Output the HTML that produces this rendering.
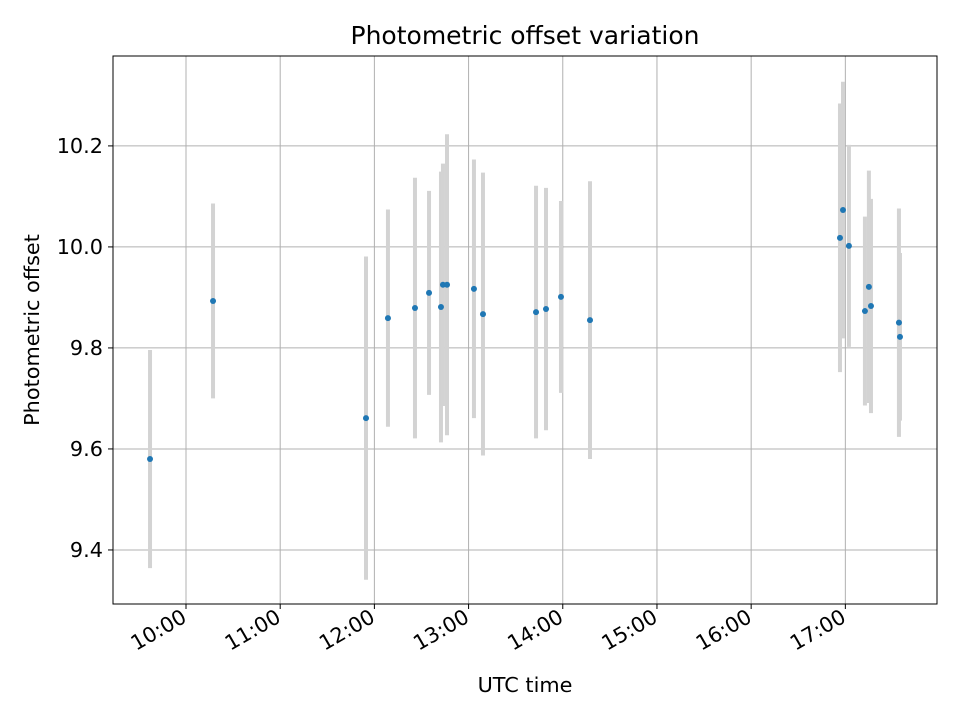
<!DOCTYPE html>
<html><head><meta charset="utf-8"><style>
html,body{margin:0;padding:0;background:#fff;}
svg text{font-family:"DejaVu Sans","Liberation Sans",sans-serif;fill:#000;}
</style></head><body>
<svg id="chart" width="960" height="720" viewBox="0 0 960 720" xmlns="http://www.w3.org/2000/svg">
<rect width="960" height="720" fill="#fff"/>
<g id="grid"></g>
<g id="errs"></g>
<g id="pts"></g>
<rect x="113" y="56" width="824" height="548" fill="none" stroke="#000" stroke-width="1"/>
<g id="ticks"></g>
<text x="525" y="44" text-anchor="middle" font-size="25">Photometric offset variation</text>
<text x="525" y="692" text-anchor="middle" font-size="20.8">UTC time</text>
<text transform="translate(39,330) rotate(-90)" text-anchor="middle" font-size="20.8">Photometric offset</text>
</svg>
<script>
const times = [9.618,10.287,11.911,12.144,12.431,12.580,12.707,12.728,12.771,13.057,13.153,13.716,13.822,13.981,14.289,16.943,16.975,17.038,17.208,17.250,17.272,17.569,17.580];
const offsets = [9.580,9.893,9.661,9.859,9.879,9.909,9.881,9.925,9.925,9.917,9.867,9.871,9.877,9.901,9.855,10.018,10.073,10.002,9.873,9.921,9.883,9.850,9.822];
const errors = [0.216,0.193,0.320,0.215,0.258,0.202,0.268,0.240,0.298,0.256,0.280,0.250,0.240,0.190,0.275,0.266,0.254,0.200,0.187,0.230,0.212,0.226,0.166];
const xTickHours = [10,11,12,13,14,15,16,17];
const xTickLabels = ["10:00","11:00","12:00","13:00","14:00","15:00","16:00","17:00"];
const yTicks = [9.4,9.6,9.8,10.0,10.2];
const yTickLabels = ["9.4","9.6","9.8","10.0","10.2"];

const L=113,R=937,T=56,B=604;
const xMin=9.225,xMax=17.973,yMin=9.293,yMax=10.378;
const xs=h=>L+(h-xMin)/(xMax-xMin)*(R-L);
const ys=v=>B-(v-yMin)/(yMax-yMin)*(B-T);
const NS="http://www.w3.org/2000/svg";
function mk(tag,parent,attrs){const e=document.createElementNS(NS,tag);for(const k in attrs)e.setAttribute(k,attrs[k]);parent.appendChild(e);return e;}
const grid=document.getElementById('grid'),ticks=document.getElementById('ticks'),errs=document.getElementById('errs'),pts=document.getElementById('pts');

xTickHours.forEach((h,i)=>{
  const x=xs(h);
  const g=mk('line',grid,{x1:x,x2:x,y1:T,y2:B,stroke:'#b0b0b0','stroke-width':1});
  
  
  const t=mk('line',ticks,{x1:x,x2:x,y1:B,y2:B+5,stroke:'#000','stroke-width':1});
  
  
  const lx=x+2, ly=B+17;
  const lb=mk('text',ticks,{x:lx,y:ly,'text-anchor':'end','font-size':20.8,transform:`rotate(-30 ${lx} ${ly})`});
  lb.textContent=xTickLabels[i];
  
  
});
yTicks.forEach((v,i)=>{
  const y=ys(v);
  const g=mk('line',grid,{x1:L,x2:R,y1:y,y2:y,stroke:'#b0b0b0','stroke-width':1});
  
  
  const t=mk('line',ticks,{x1:L-5,x2:L,y1:y,y2:y,stroke:'#000','stroke-width':1});
  
  
  const lb=mk('text',ticks,{x:L-10,y:y+7,'text-anchor':'end','font-size':20.8});
  lb.textContent=yTickLabels[i];
  
  
});
times.forEach((h,i)=>{
  const x=xs(h);
  const e=mk('line',errs,{x1:x,x2:x,y1:ys(offsets[i]+errors[i]),y2:ys(offsets[i]-errors[i]),stroke:'#d3d3d3','stroke-width':4});
  
  
});
times.forEach((h,i)=>{
  const c=mk('circle',pts,{cx:xs(h),cy:ys(offsets[i]),r:3,fill:'#1f77b4'});
  
  
});
</script>
</body></html>
